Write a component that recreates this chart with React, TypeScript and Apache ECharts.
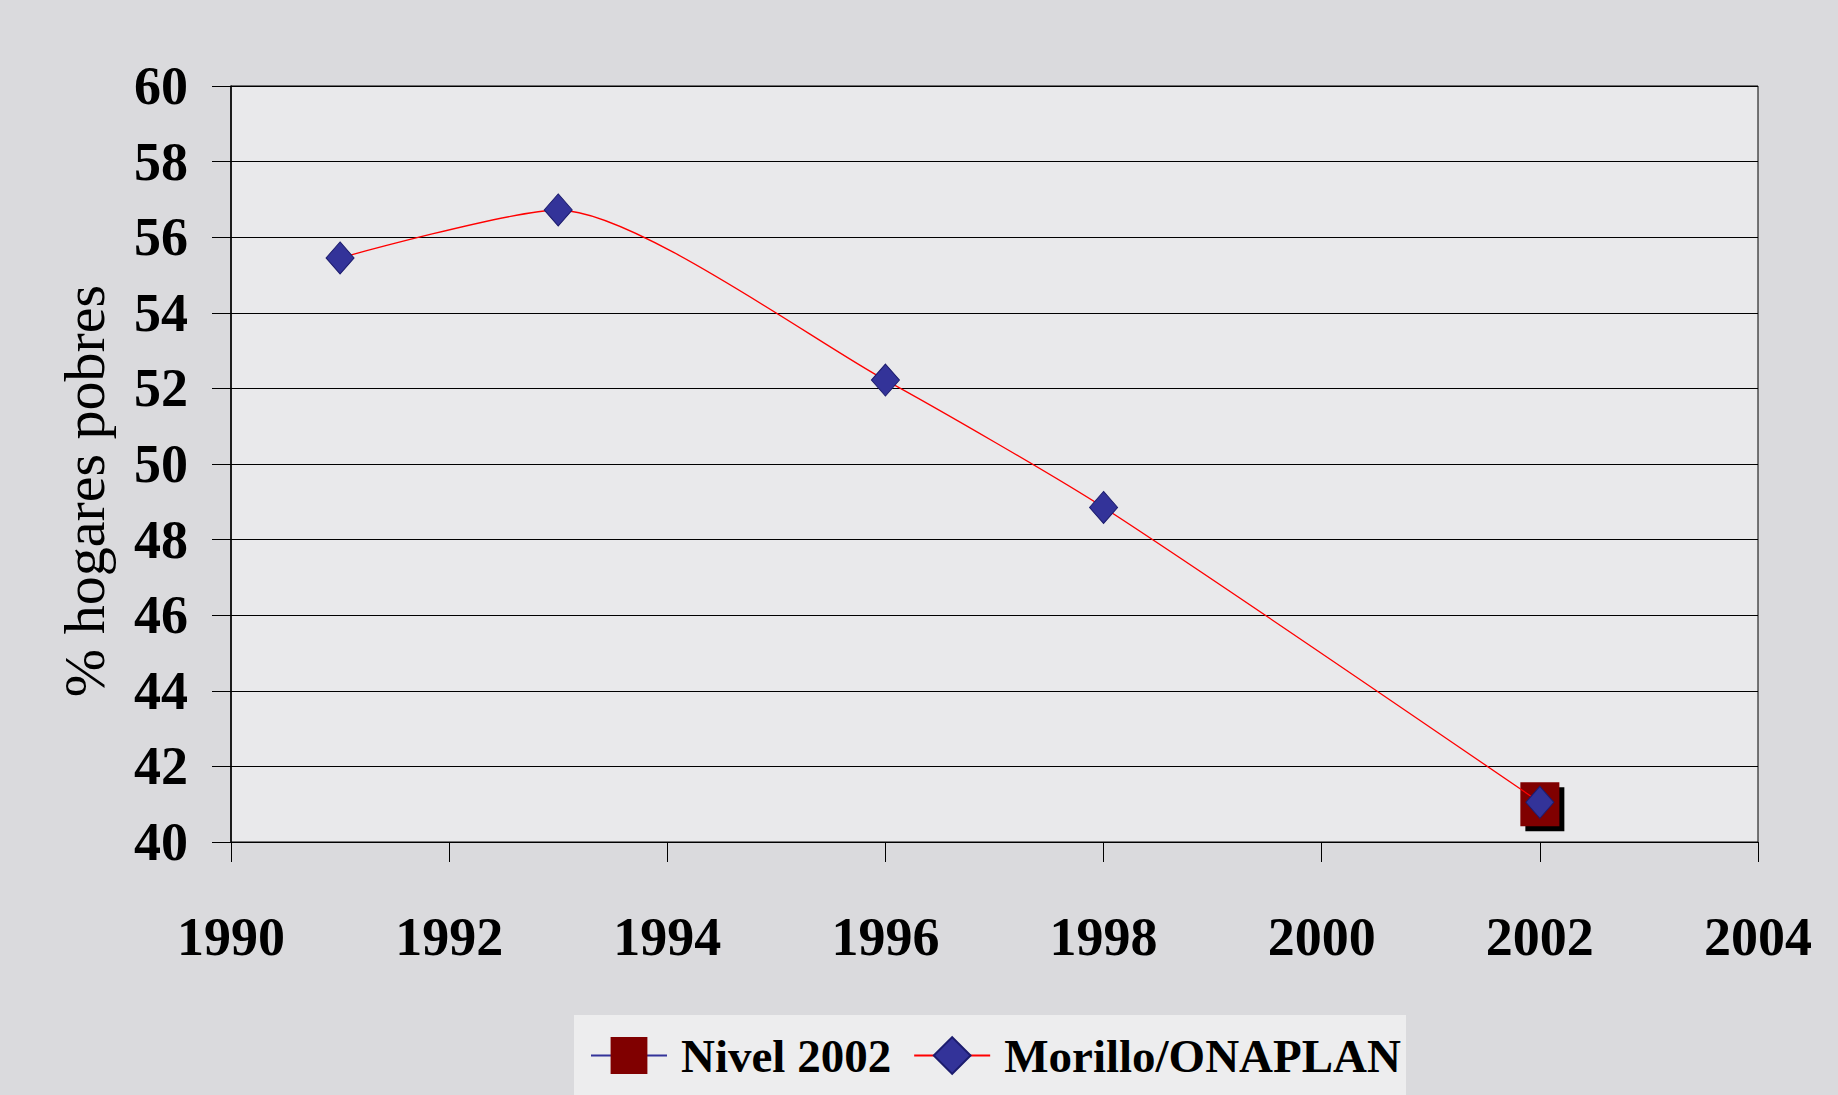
import React, { useEffect, useRef } from "react";
import * as echarts from "echarts";

const years = [1991, 1993, 1996, 1998, 2002];
const morillo = [55.45, 56.72, 52.22, 48.85, 41.05];
const nivelYear = [2002];
const nivel = [41.0];
const xTicks = { min: 1990, max: 2004, interval: 2 };
const yTicks = { min: 40, max: 60, interval: 2 };

const FONT = "'Liberation Serif', 'DejaVu Serif', serif";

export default function App() {
  const ref = useRef<HTMLDivElement>(null);
  useEffect(() => {
    document.body.style.margin = "0";
    if (!ref.current) return;
    const chart = echarts.init(ref.current, undefined, { renderer: "svg" });
    const morilloData = years.map((y, i) => [y, morillo[i]]);
    const nivelData = nivelYear.map((y, i) => [y, nivel[i]]);
    chart.setOption({
      animation: false,
      backgroundColor: "#dadadd",
      grid: {
        left: 231,
        right: 80,
        top: 86,
        bottom: 253,
        show: true,
        backgroundColor: "#e9e9eb",
        borderColor: "#000",
        borderWidth: 1,
      },
      graphic: [
        {
          type: "text",
          x: 84,
          y: 491,
          rotation: Math.PI / 2,
          style: {
            text: "% hogares pobres",
            font: `58px ${FONT}`,
            fill: "#000",
            textAlign: "center",
            textVerticalAlign: "middle",
          },
        },
      ],
      legend: {
        data: ["Nivel 2002", "Morillo/ONAPLAN"],
        left: 574,
        top: 1015,
        padding: [17, 5, 17, 16],
        backgroundColor: "#ededee",
        itemWidth: 76,
        itemHeight: 46,
        itemGap: 22,
        textStyle: {
          fontFamily: FONT,
          fontWeight: "bold",
          fontSize: 47,
          color: "#000",
          padding: [0, 0, 0, 9],
        },
      },
      xAxis: {
        type: "value",
        min: xTicks.min,
        max: xTicks.max,
        interval: xTicks.interval,
        axisLine: { show: true, onZero: false, lineStyle: { color: "#000", width: 1 } },
        axisTick: { show: true, length: 20, lineStyle: { color: "#000" } },
        splitLine: { show: false },
        axisLabel: {
          margin: 68,
          fontFamily: FONT,
          fontWeight: "bold",
          fontSize: 54,
          color: "#000",
          formatter: (v: number) => String(v),
        },
      },
      yAxis: {
        type: "value",
        min: yTicks.min,
        max: yTicks.max,
        interval: yTicks.interval,
        axisLine: { show: true, lineStyle: { color: "#000", width: 1.5 } },
        axisTick: { show: true, length: 19, lineStyle: { color: "#000" } },
        splitLine: { show: true, lineStyle: { color: "#000", width: 1 } },
        axisLabel: {
          margin: 43,
          fontFamily: FONT,
          fontWeight: "bold",
          fontSize: 54,
          color: "#000",
        },
      },
      series: [
        {
          name: "sombra",
          type: "line",
          data: nivelData,
          symbol: "rect",
          symbolSize: [39, 44],
          symbolOffset: [5, 5],
          itemStyle: { color: "#000" },
          lineStyle: { width: 0 },
          z: 2,
          silent: true,
        },
        {
          name: "Nivel 2002",
          type: "line",
          data: nivelData,
          symbol: "rect",
          symbolSize: [39, 44],
          itemStyle: { color: "#800000" },
          lineStyle: { color: "#333399", width: 1.5 },
          z: 3,
        },
        {
          name: "Morillo/ONAPLAN",
          type: "line",
          data: morilloData,
          smooth: 0.22,
          symbol: "diamond",
          symbolSize: [28, 32],
          itemStyle: { color: "#333399", borderColor: "#1c1c6e", borderWidth: 1 },
          lineStyle: { color: "#ff0000", width: 1.3 },
          z: 4,
        },
      ],
    });
    return () => chart.dispose();
  }, []);
  return <div ref={ref} style={{ width: 1838, height: 1095 }} />;
}
